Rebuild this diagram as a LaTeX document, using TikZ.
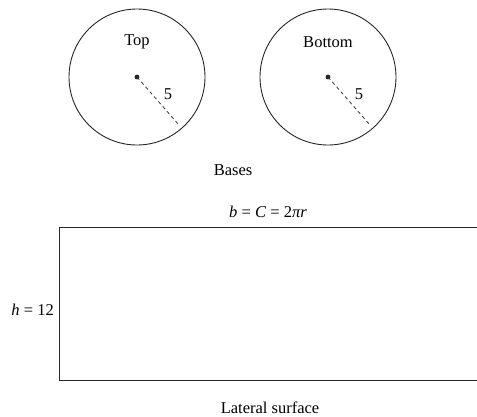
\documentclass[tikz,border=0pt]{standalone}
\usepackage{fontspec}
\setmainfont{Liberation Serif}
\usepackage{tikz}
\usetikzlibrary{positioning, calc}

\tikzset{
    edge/.style={black!85, line width=0.9pt},
    radius line/.style={black!80, line width=0.8pt, dash pattern=on 3.5pt off 3pt},
    lbl/.style={font=\fontsize{16.5}{18}\selectfont, inner sep=0pt}
}

\begin{document}
\begin{tikzpicture}[x=1pt, y=-1pt]
\useasboundingbox (0,0) rectangle (477,416);

% =========================================================
%  TOP: the two bases
% =========================================================
\foreach \cx/\name/\txt in {137/top/Top, 328/bottom/Bottom} {
    \coordinate (\name c) at (\cx, 77);
    \draw[edge] (\name c) circle (68);
    \fill[black!85] (\name c) circle (2.4);
    \coordinate (\name r) at ($(\name c) + (42, 48)$);
    \draw[radius line] (\name c) -- (\name r);
    \node[lbl] (\name lbl) at (\cx, 42) {\txt};
    \node[lbl] (\name five) at ($(\name c) + (31, 17)$) {5};
}

\node[lbl] (bases) at (233, 170) {Bases};

% =========================================================
%  BOTTOM: lateral surface (runs past the right edge)
% =========================================================
\coordinate (tl) at (59, 227);
\coordinate (bl) at (59, 380);
\draw[edge] (480, 227) -- (tl) -- (bl) -- (480, 380);

\node[lbl] (base) at (268, 212) {\textit{b} = \textit{C} = 2\textit{πr}};
\node[lbl, left=5pt of $(tl)!0.54!(bl)$] (height) {\textit{h} = 12};
\node[lbl] (lateral) at (270, 408) {Lateral surface};

\end{tikzpicture}
\end{document}
